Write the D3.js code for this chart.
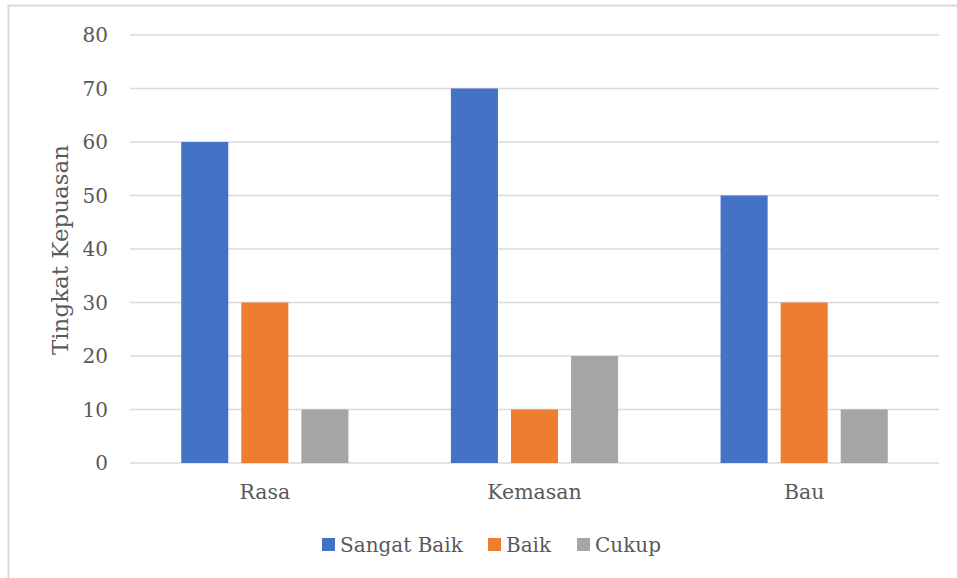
<!DOCTYPE html>
<html>
<head>
<meta charset="utf-8">
<script src="https://cdn.jsdelivr.net/npm/d3@7"></script>
<style>
  body { margin: 0; background: #fff; }
  svg text { font-family: Georgia, "DejaVu Serif", serif; fill: #595959; }
</style>
</head>
<body>
<svg id="chart" width="957" height="578"></svg>
<script>
const categories = ['Rasa', 'Kemasan', 'Bau'];
const series = ['Sangat Baik', 'Baik', 'Cukup'];
const sangatBaik = [60, 70, 50];
const baik = [30, 10, 30];
const cukup = [10, 20, 10];
const yTicks = [0, 10, 20, 30, 40, 50, 60, 70, 80];

const color = ['#4472C4', '#ED7D31', '#A5A5A5'];
const values = [sangatBaik, baik, cukup];

const svg = d3.select('#chart');

// outer chart border
svg.append('rect')
    .attr('x', 8.5).attr('y', 5.5)
    .attr('width', 960).attr('height', 580)
    .attr('fill', 'none')
    .attr('stroke', '#d9d9d9')
    .attr('stroke-width', 2);

const plotLeft = 130, plotRight = 939, plotTop = 35, plotBottom = 463;

const y = d3.scaleLinear().domain([0, 80]).range([plotBottom, plotTop]);
const x0 = d3.scaleBand().domain(categories).range([plotLeft, plotRight]);
const cw = x0.bandwidth();
const x1 = d3.scaleBand().domain(series)
    .range([cw * 0.19, cw * 0.81])
    .paddingInner(0.217);

// gridlines
svg.append('g').selectAll('line')
    .data(yTicks)
    .enter().append('line')
    .attr('x1', plotLeft).attr('x2', plotRight)
    .attr('y1', d => y(d)).attr('y2', d => y(d))
    .attr('stroke', '#d9d9d9')
    .attr('stroke-width', 1.5);

// y tick labels
svg.append('g').selectAll('text')
    .data(yTicks)
    .enter().append('text')
    .attr('x', 108)
    .attr('y', d => y(d))
    .attr('dy', '0.35em')
    .attr('text-anchor', 'end')
    .style('font-size', '20px')
    .text(d => d);

// bars
const groups = svg.append('g').selectAll('g')
    .data(categories)
    .enter().append('g')
    .attr('transform', d => `translate(${x0(d)},0)`);

groups.selectAll('rect')
    .data((c, ci) => series.map((s, si) => ({ s: s, si: si, v: values[si][ci] })))
    .enter().append('rect')
    .attr('x', d => x1(d.s))
    .attr('y', d => y(d.v))
    .attr('width', x1.bandwidth())
    .attr('height', d => y(0) - y(d.v))
    .style('fill', d => color[d.si]);

// category labels
svg.append('g').selectAll('text')
    .data(categories)
    .enter().append('text')
    .attr('x', d => x0(d) + cw / 2)
    .attr('y', 499)
    .attr('text-anchor', 'middle')
    .style('font-size', '20.5px')
    .text(d => d);

// y axis title
svg.append('text')
    .attr('transform', 'translate(68,250) rotate(-90)')
    .attr('text-anchor', 'middle')
    .style('font-size', '23px')
    .text('Tingkat Kepuasan');

// legend
const legendX = [322, 488, 577];
const legend = svg.append('g').selectAll('g')
    .data(series)
    .enter().append('g')
    .attr('transform', (d, i) => `translate(${legendX[i]},538)`);

legend.append('rect')
    .attr('width', 13).attr('height', 13)
    .style('fill', (d, i) => color[i]);

legend.append('text')
    .attr('x', 18)
    .attr('y', 7)
    .attr('dy', '0.35em')
    .style('font-size', '20px')
    .text(d => d);
</script>
</body>
</html>
